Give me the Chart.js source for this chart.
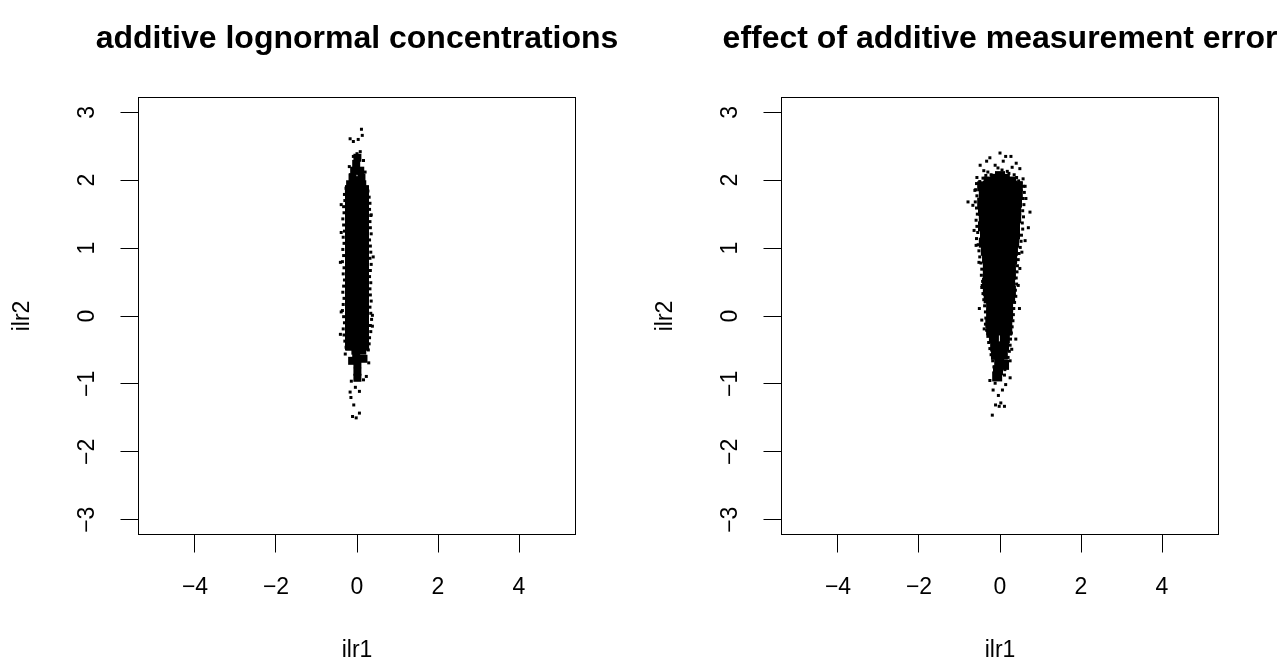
<!DOCTYPE html>
<html><head><meta charset="utf-8">
<script src="https://cdn.jsdelivr.net/npm/chart.js@4.4.0/dist/chart.umd.min.js"></script>
<style>
 body { margin:0; background:#fff; }
 .row { display:flex; }
 canvas { display:block; }
</style>
</head>
<body>
<div class="row">
  <canvas id="left" width="640" height="662"></canvas>
  <canvas id="right" width="640" height="662"></canvas>
</div>
<script>
// axis ticks
var xTicks = [-4, -2, 0, 2, 4];
var yTicks = [-3, -2, -1, 0, 1, 2, 3];
var titles = ['additive lognormal concentrations', 'effect of additive measurement error'];
var xLabel = 'ilr1', yLabel = 'ilr2';

// points, [ilr1, ilr2]
// left cloud: dense body, tapering ends, edge/outlier points
var leftCore = [[0,1.75],[0,1.60],[0,1.45],[0,1.31],[0,1.16],[0,1.01],[0,0.86],[0,0.72],
  [0,0.57],[0,0.42],[0,0.28],[0,0.13],[0,-0.02],[0,-0.17],[0,-0.31],[0,-0.33]];
var leftMid = [[0.01,2.33],[-0.02,2.24],[-0.07,2.14],[0.08,2.14],[-0.11,2.04],[0.11,2.04],[-0.01,2.0],
  [-0.17,1.94],[0.13,1.94],[-0.05,1.94],[-0.2,1.86],[0.18,1.86],
  [-0.18,-0.45],[0.2,-0.45],[-0.04,-0.51],[0.13,-0.51],[-0.02,-0.61],[0.16,-0.63],[-0.12,-0.66],
  [0.01,-0.71],[0.01,-0.82],[0.01,-0.91]];
var leftDots = [[0.11,2.75],[-0.17,2.61],[-0.09,2.57],[0.03,2.60],[0.13,2.66],
  [0.0,2.39],[0.08,2.42],[-0.09,2.35],[0.16,2.29],[-0.19,2.20],[0.20,2.12],[-0.16,2.08],
  [-0.27,1.88],[-0.31,1.79],[-0.30,1.70],[-0.33,1.61],[-0.32,1.52],[-0.35,1.43],[-0.33,1.34],[-0.31,1.25],
  [-0.34,1.16],[-0.32,1.07],[-0.35,0.98],[-0.33,0.89],[-0.36,0.80],[-0.32,0.71],[-0.34,0.62],[-0.31,0.53],
  [-0.33,0.44],[-0.35,0.35],[-0.32,0.26],[-0.34,0.17],[-0.36,0.08],[-0.33,-0.01],[-0.31,-0.10],[-0.34,-0.19],
  [-0.32,-0.28],[-0.30,-0.37],[-0.27,-0.46],
  [0.27,1.84],[0.30,1.75],[0.32,1.66],[0.31,1.57],[0.34,1.48],[0.32,1.39],[0.33,1.30],[0.35,1.21],
  [0.31,1.12],[0.33,1.03],[0.34,0.94],[0.32,0.85],[0.35,0.76],[0.33,0.67],[0.31,0.58],[0.34,0.49],
  [0.32,0.40],[0.33,0.31],[0.35,0.22],[0.32,0.13],[0.34,0.04],[0.36,-0.05],[0.33,-0.14],[0.34,-0.23],
  [0.31,-0.32],[0.30,-0.41],[0.28,-0.50],
  [-0.39,1.64],[0.35,1.49],[-0.39,1.23],[0.40,0.87],[-0.41,0.79],[-0.39,0.06],[0.38,0.01],[0.38,-0.15],
  [-0.41,-0.27],[0.29,-0.69],[0.23,-0.89],[0.16,-0.94],[-0.29,-0.56],
  [-0.14,-0.96],[-0.04,-1.05],[-0.17,-1.12],[0.06,-1.11],[-0.15,-1.20],[-0.08,-1.31],[0.06,-1.43],[-0.11,-1.48],[-0.02,-1.50]];

// right cloud: wide top body, narrower lower body, tail, edge/outlier points
var rightTop = [[0,1.74],[0,1.60],[0,1.45],[0,1.30],[0,1.15],[0,1.01]];
var rightCore = [[0,0.86],[0,0.71],[0,0.56],[0,0.42],[0,0.27],[0,0.12],[0,-0.03],[0,-0.11]];
var rightMid = [[-0.12,2.02],[0.12,2.02],[0,2.06],[-0.28,1.98],[0.28,1.98],
  [-0.44,1.91],[0.44,1.91],[-0.40,1.79],[0.44,1.79],[-0.44,1.67],[0.42,1.67],
  [-0.42,1.55],[0.40,1.55],[-0.40,1.44],[0.40,1.44],[-0.42,1.32],[0.37,1.32],[-0.37,1.20],[0.37,1.20],
  [-0.40,1.08],[0.35,1.08],[-0.35,0.96],[0.32,0.96],[-0.32,0.85],[0.30,0.85],
  [-0.30,0.73],[0.27,0.73],[-0.30,0.61],[0.27,0.61],[-0.32,0.49],[0.25,0.49],[-0.30,0.37],[0.27,0.37],
  [-0.28,0.26],[0.25,0.26],[-0.22,0.14],[0.20,0.14],[-0.22,0.02],[0.20,0.02],[-0.24,-0.10],[0.18,-0.10],
  [-0.22,-0.21],[0.18,-0.21],
  [-0.15,-0.33],[0.12,-0.33],[-0.12,-0.45],[0.10,-0.45],[-0.10,-0.57],[0.07,-0.57],[-0.02,-0.68],[0.10,-0.72],
  [-0.05,-0.80],[-0.07,-0.89]];
var rightDots = [[0,2.40],[0.14,2.35],[0.27,2.35],[-0.25,2.33],[-0.33,2.28],[0.08,2.28],[-0.49,2.22],[-0.12,2.22],
  [0.40,2.25],[0.49,2.17],[-0.40,2.14],[0.30,2.19],[-0.57,2.04],[0.57,2.02],[0.62,1.91],[-0.62,1.85],
  [-0.30,2.12],[0.05,2.15],[0.22,2.10],[-0.05,2.18],[0.35,2.08],[-0.50,1.98],[0.52,1.96],
  [-0.42,2.03],[0.41,2.04],[-0.35,2.07],[0.46,1.99],[-0.22,2.08],[0.18,2.13],
  [-0.58,1.95],[-0.60,1.86],[-0.57,1.77],[-0.61,1.68],[-0.58,1.59],[-0.56,1.50],[-0.59,1.41],[-0.57,1.32],
  [-0.55,1.23],[-0.58,1.14],[-0.54,1.05],[-0.52,0.96],[-0.50,0.87],[-0.47,0.78],[-0.45,0.69],[-0.46,0.60],
  [-0.43,0.51],[-0.45,0.42],[-0.42,0.33],[-0.40,0.24],[-0.38,0.15],[-0.36,0.06],[-0.35,-0.03],[-0.36,-0.12],
  [-0.33,-0.21],[-0.30,-0.30],[-0.28,-0.39],[-0.25,-0.48],[-0.22,-0.57],[-0.18,-0.66],[-0.15,-0.75],
  [0.58,1.91],[0.60,1.82],[0.57,1.73],[0.59,1.64],[0.56,1.55],[0.58,1.46],[0.55,1.37],[0.56,1.28],
  [0.53,1.19],[0.52,1.10],[0.50,1.01],[0.47,0.92],[0.45,0.83],[0.43,0.74],[0.42,0.65],[0.40,0.56],
  [0.41,0.47],[0.38,0.38],[0.39,0.29],[0.36,0.20],[0.34,0.11],[0.33,0.02],[0.32,-0.07],[0.30,-0.16],
  [0.28,-0.25],[0.26,-0.34],[0.25,-0.43],[0.23,-0.52],[0.20,-0.61],[0.17,-0.70],[0.12,-0.79],
  [-0.79,1.68],[-0.67,1.63],[-0.64,1.26],[-0.59,1.04],[-0.52,0.79],[-0.51,0.11],[-0.45,-0.06],
  [-0.39,-0.19],[-0.44,0.45],
  [0.74,1.53],[0.70,1.30],[0.64,1.73],[0.62,1.11],[0.54,0.94],[0.49,0.70],[0.45,0.45],[0.48,0.11],
  [0.39,-0.34],[0.29,-0.49],[0.25,-0.66],
  [0.11,-0.87],[0.25,-0.91],[0.14,-1.01],[-0.17,-1.09],[0.06,-1.09],[-0.04,-1.17],[0.02,-1.28],[-0.11,-1.31],
  [-0.02,-1.33],[0.11,-1.33],[-0.19,-1.46],[-0.25,-0.95],[-0.12,-0.99]];

var FONT = '"Liberation Sans", Arial, Helvetica, sans-serif';

function tickLabel(v) { return v < 0 ? '\u2212' + Math.abs(v) : String(v); }
function pts(list) { return list.map(function (p) { return {x: p[0], y: p[1]}; }); }

// R style box, main title and rotated y tick labels
var rbox = {
  id: 'rbox',
  afterDraw: function (chart) {
    var ctx = chart.ctx, a = chart.chartArea, y = chart.scales.y;
    ctx.save();
    ctx.strokeStyle = '#000';
    ctx.lineWidth = 1;
    ctx.strokeRect(a.left + 0.5, a.top + 0.5, a.right - a.left - 1, a.bottom - a.top - 1);
    ctx.fillStyle = '#000';
    ctx.textAlign = 'center';
    ctx.textBaseline = 'alphabetic';
    ctx.font = 'bold 32px ' + FONT;
    ctx.fillText(chart.options.mainTitle, (a.left + a.right) / 2, 48);
    ctx.font = '23px ' + FONT;
    ctx.textBaseline = 'middle';
    yTicks.forEach(function (v) {
      ctx.save();
      ctx.translate(a.left - 50, y.getPixelForValue(v));
      ctx.rotate(-Math.PI / 2);
      ctx.fillText(tickLabel(v), 0, 0);
      ctx.restore();
    });
    ctx.restore();
  }
};

// groups: [[points, square side in px], ...]
function makeChart(id, title, groups, axisW) {
  var datasets = groups.map(function (g) {
    var r = g[1] / Math.SQRT2;
    return {data: pts(g[0]), pointStyle: 'rect', pointRadius: r, pointHoverRadius: r,
      backgroundColor: '#000', borderWidth: 0};
  });
  return new Chart(document.getElementById(id), {
    type: 'scatter',
    data: {datasets: datasets},
    options: {
      mainTitle: title,
      responsive: false,
      animation: false,
      events: [],
      layout: {padding: {left: 0, top: 97, bottom: 0, right: 640 - axisW - 438}},
      plugins: {
        legend: {display: false},
        tooltip: {enabled: false},
        title: {display: false}
      },
      scales: {
        x: {
          type: 'linear', min: -5.407, max: 5.407,
          afterBuildTicks: function (s) { s.ticks = xTicks.map(function (v) { return {value: v}; }); },
          afterFit: function (s) { s.height = 662 - 535; },
          ticks: {color: '#000', padding: 21.5, maxRotation: 0, autoSkip: false,
            font: {family: FONT, size: 23, lineHeight: 1.2},
            callback: function (v) { return tickLabel(v); }},
          grid: {drawOnChartArea: false, drawTicks: true, tickLength: 17.5, color: '#000', lineWidth: 1},
          border: {display: false},
          title: {display: true, text: xLabel, color: '#000', padding: {top: 0, bottom: 0},
            font: {family: FONT, size: 23, lineHeight: 1}}
        },
        y: {
          type: 'linear', min: -3.225, max: 3.225,
          afterBuildTicks: function (s) { s.ticks = yTicks.map(function (v) { return {value: v}; }); },
          afterFit: function (s) { s.width = axisW; },
          ticks: {display: false},
          grid: {drawOnChartArea: false, drawTicks: true, tickLength: 17.5, color: '#000', lineWidth: 1},
          border: {display: false},
          title: {display: true, text: yLabel, color: '#000', padding: {top: axisW - 115.5 - 11.5, bottom: 0},
            font: {family: FONT, size: 23, lineHeight: 1}}
        }
      }
    },
    plugins: [rbox]
  });
}

makeChart('left', titles[0], [[leftCore, 24], [leftMid, 8], [leftDots, 3]], 138);
makeChart('right', titles[1], [[rightTop, 34], [rightCore, 24], [rightMid, 10], [rightDots, 3]], 141);
</script>
</body></html>
